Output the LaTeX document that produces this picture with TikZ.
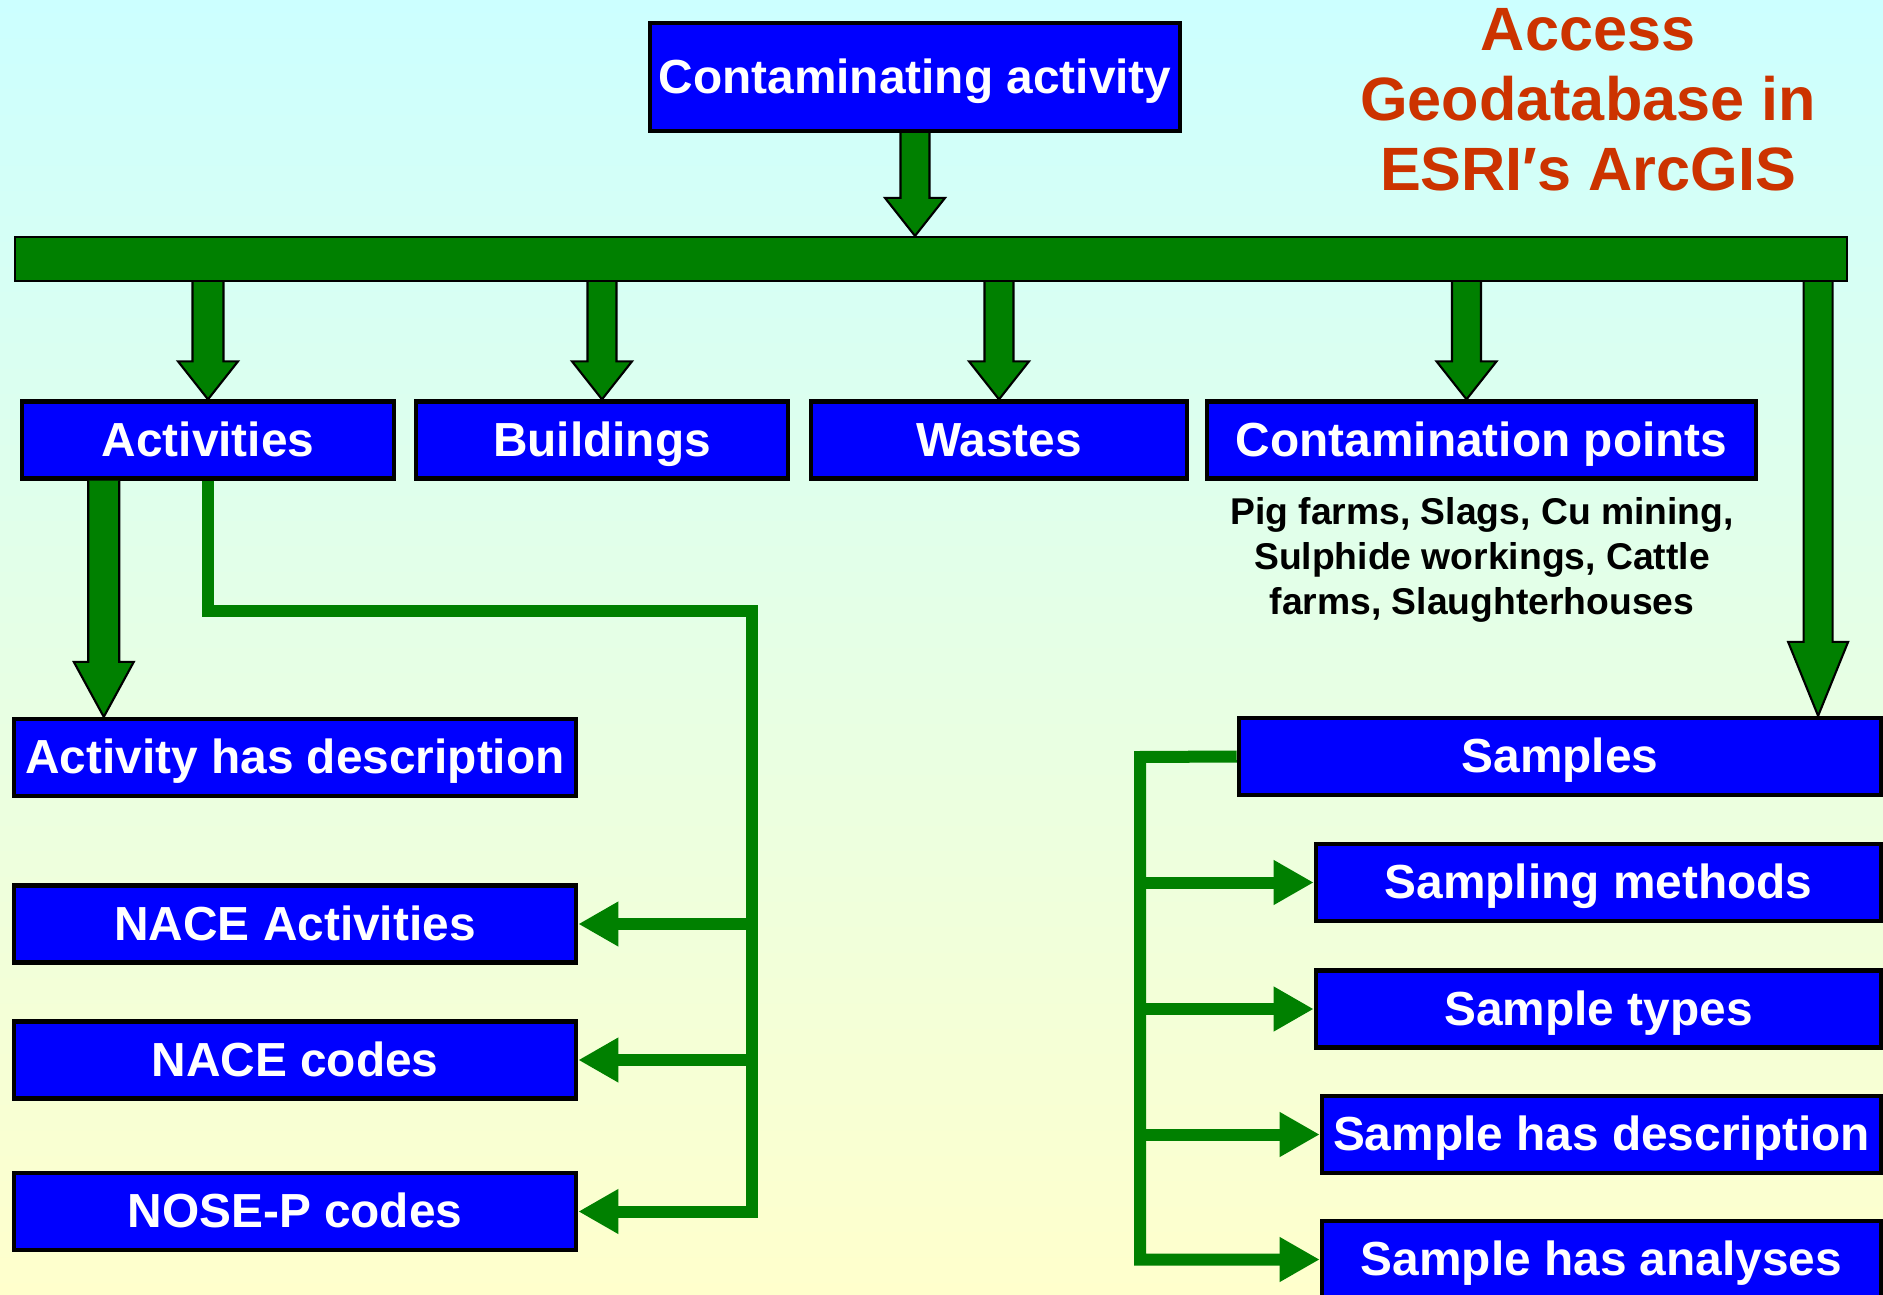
\documentclass[tikz,border=0pt]{standalone}
\usepackage{fontspec}
\setmainfont{Liberation Sans}
\usetikzlibrary{arrows.meta, positioning, calc}
\definecolor{boxblue}{RGB}{0, 0, 255}
\definecolor{arrgreen}{RGB}{0, 128, 0}
\definecolor{titlered}{RGB}{204, 51, 0}
\definecolor{bgtop}{RGB}{204, 255, 255}
\definecolor{bgbottom}{RGB}{255, 255, 204}

% block arrow pointing down: #1 start, #2 tip, #3 half shaft width, #4 head length
\newcommand{\fatdown}[4]{%
  \draw[fatarr] ($(#1)+(-#3,0)$) -- ($(#2)+(-#3,-#4)$) -- ($(#2)+(-30,-#4)$) -- (#2)
    -- ($(#2)+(30,-#4)$) -- ($(#2)+(#3,-#4)$) -- ($(#1)+(#3,0)$);
}

\begin{document}
\begin{tikzpicture}[
        x=0.01cm, y=-0.01cm,
        box/.style={draw=black, line width=1.2pt, fill=boxblue, text=white, inner sep=0pt,
          text height=0.92em, text depth=0pt,
          minimum height=0.77cm, font=\fontsize{13.6}{16}\selectfont\bfseries},
        bar/.style={draw=black, line width=0.6pt, fill=arrgreen, inner sep=0pt,
          minimum width=18.31cm, minimum height=0.44cm},
        note/.style={align=center, inner sep=0pt, font=\fontsize{10.6}{12.7}\selectfont\bfseries},
        title/.style={align=center, inner sep=0pt, text=titlered, font=\fontsize{17.4}{19.9}\selectfont\bfseries},
        fatarr/.style={draw=black, line width=0.6pt, fill=arrgreen},
        conn/.style={draw=arrgreen, line width=0.12cm},
        arr/.style={conn, -{Triangle[length=0.4cm, width=0.42cm]}}
      ]
        \useasboundingbox (0,0) rectangle (1883,1295);
        \shade[top color=bgtop, bottom color=bgbottom] (0,0) rectangle (1883,1295);

        \node[title] (ttl) at (1588,100) {Access\\Geodatabase in\\ESRI′s ArcGIS};

        \node[box, minimum width=5.30cm, minimum height=1.08cm] (top) at (915,77) {Contaminating activity};
        \node[bar] (bar) at (931,259) {};

        \node[box, minimum width=3.72cm] (act) at (208,440) {Activities};
        \node[box, minimum width=3.72cm] (bld) at (602,440) {Buildings};
        \node[box, minimum width=3.76cm] (wst) at (999,440) {Wastes};
        \node[box, minimum width=5.49cm] (cpt) at (1481.5,440) {Contamination points};
        \node[note] (cnote) at (1482,560) {Pig farms, Slags, Cu mining,\\Sulphide workings, Cattle\\farms, Slaughterhouses};

        \node[box, minimum width=5.62cm] (desc) at (295,757.5) {Activity has description};
        \node[box, minimum width=5.62cm] (nacea) at (295,924) {NACE Activities};
        \node[box, minimum width=5.62cm] (nacec) at (295,1060) {NACE codes};
        \node[box, minimum width=5.62cm] (nosep) at (295,1211.5) {NOSE-P codes};

        \node[box, minimum width=6.42cm] (smp) at (1560,756.5) {Samples};
        \node[box, minimum width=5.65cm] (smeth) at (1598.5,882.5) {Sampling methods};
        \node[box, minimum width=5.65cm] (stype) at (1598.5,1009) {Sample types};
        \node[box, minimum width=5.59cm] (sdesc) at (1601.5,1134.5) {Sample has description};
        \node[box, minimum width=5.59cm] (sanal) at (1601.5,1259.5) {Sample has analyses};

        % block arrows
        \fatdown{top.south}{top.south |- bar.north}{14.5}{38}
        \fatdown{act.north |- bar.south}{act.north}{15.5}{38}
        \fatdown{bld.north |- bar.south}{bld.north}{14.5}{38}
        \fatdown{wst.north |- bar.south}{wst.north}{14.5}{38}
        \coordinate (cptin) at ($(cpt.north)+(-15,0)$);
        \fatdown{cptin |- bar.south}{cptin}{14.5}{38}
        \coordinate (rdrop) at ($(bar.south east)+(-30,0)$);
        \fatdown{rdrop}{rdrop |- smp.north}{14.5}{74}
        \coordinate (ldrop) at ($(act.south west)+(84,0)$);
        \fatdown{ldrop}{ldrop |- desc.north}{15.5}{55}

        % activity branches
        \coordinate (lbus) at (752,611);
        \draw[arr] (act.south) |- (lbus) -- (lbus |- nosep.east) -- (nosep.east);
        \draw[arr] (lbus |- nacea.east) -- (nacea.east);
        \draw[arr] (lbus |- nacec.east) -- (nacec.east);

        % sample branches
        \coordinate (rbus) at (1140,757);
        \draw[arr] (smp.west) -- (rbus) -- (rbus |- sanal.west) -- (sanal.west);
        \draw[arr] (rbus |- smeth.west) -- (smeth.west);
        \draw[arr] (rbus |- stype.west) -- (stype.west);
        \draw[arr] (rbus |- sdesc.west) -- (sdesc.west);
      \end{tikzpicture}
\end{document}
